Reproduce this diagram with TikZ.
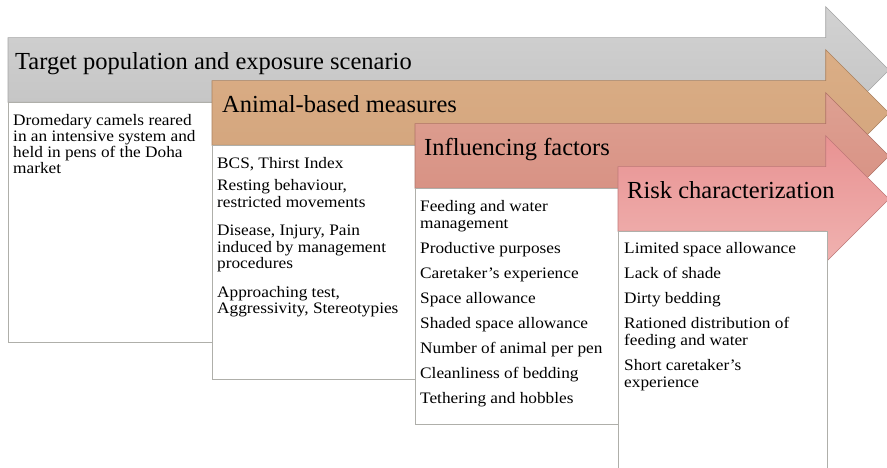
\documentclass[tikz,border=0pt]{standalone}
\usepackage{fontspec}
\setmainfont{Liberation Serif}
\newfontfamily\listfont[FakeStretch=1.08]{Liberation Serif}
\usetikzlibrary{shapes.arrows,positioning,calc}

\definecolor{graytop}{RGB}{210,210,210}
\definecolor{graybot}{RGB}{194,194,194}
\definecolor{grayedge}{RGB}{165,165,165}
\definecolor{tantop}{RGB}{219,174,134}
\definecolor{tanbot}{RGB}{210,164,124}
\definecolor{tanedge}{RGB}{170,130,95}
\definecolor{rosetop}{RGB}{222,160,146}
\definecolor{rosebot}{RGB}{214,142,128}
\definecolor{roseedge}{RGB}{175,115,102}
\definecolor{pinktop}{RGB}{232,146,146}
\definecolor{pinkbot}{RGB}{240,178,176}
\definecolor{pinkedge}{RGB}{190,120,120}
\definecolor{boxline}{RGB}{175,175,170}

\begin{document}
\begin{tikzpicture}[x=1pt, y=-1pt,
  banner/.style={single arrow, single arrow head extend=31pt, single arrow tip angle=90,
    inner xsep=0pt, inner ysep=32pt, outer sep=0pt, anchor=tail, line width=0.6pt},
  title/.style={anchor=base west, inner sep=0pt, font=\fontsize{24.5}{28}\selectfont},
  listbox/.style={draw=boxline, fill=white, anchor=north west, inner sep=0pt, outer sep=0pt, line width=0.8pt},
  items/.style={anchor=north west, align=left, inner sep=0pt, font=\listfont\fontsize{16}{17}\selectfont}
]
\useasboundingbox[fill=white] (0,0) rectangle (887,468);

% banners, each one laid over the previous
\node[banner, minimum height=881pt, draw=grayedge, top color=graytop, bottom color=graybot] (target) at (8,70) {};
\node[listbox, minimum width=204pt, minimum height=240pt] (targetbox) at (8,102) {};

\node[banner, minimum height=677pt, draw=tanedge, top color=tantop, bottom color=tanbot] (measures) at (212,113) {};
\node[listbox, minimum width=203pt, minimum height=234pt] (measuresbox) at (212,145) {};

\node[banner, minimum height=474pt, draw=roseedge, top color=rosetop, bottom color=rosebot] (factors) at (415,156) {};
\node[listbox, minimum width=203pt, minimum height=236pt] (factorsbox) at (415,188) {};

\node[banner, minimum height=271pt, draw=pinkedge, top color=pinktop, bottom color=pinkbot] (risk) at (618,199) {};
\node[listbox, minimum width=209pt, minimum height=240pt] (riskbox) at (618,231) {};

% banner titles
\node[title] (targettitle) at ($(target.tail)+(7,0)$) {Target population and exposure scenario};
\node[title] (measurestitle) at ($(measures.tail)+(10,0)$) {Animal-based measures};
\node[title] (factorstitle) at ($(factors.tail)+(9,0)$) {Influencing factors};
\node[title] (risktitle) at ($(risk.tail)+(9,0)$) {Risk characterization};

% box contents
\node[items, below right=12pt and 5pt of targetbox.north west, font=\listfont\fontsize{16}{16}\selectfont] (targetlist)
  {Dromedary camels reared\\in an intensive system and\\held in pens of the Doha\\market};
\node[items, below right=12pt and 5pt of measuresbox.north west, font=\listfont\fontsize{16}{16.5}\selectfont] (measureslist)
  {BCS, Thirst Index\\[6pt]
   Resting behaviour,\\restricted movements\\[12pt]
   Disease, Injury, Pain\\induced by management\\procedures\\[12pt]
   Approaching test,\\Aggressivity, Stereotypies};
\node[items, below right=12pt and 5pt of factorsbox.north west] (factorslist)
  {Feeding and water\\management\\[8pt]
   Productive purposes\\[8pt]
   Caretaker’s experience\\[8pt]
   Space allowance\\[8pt]
   Shaded space allowance\\[8pt]
   Number of animal per pen\\[8pt]
   Cleanliness of bedding\\[8pt]
   Tethering and hobbles};
\node[items, below right=11pt and 6pt of riskbox.north west] (risklist)
  {Limited space allowance\\[8pt]
   Lack of shade\\[8pt]
   Dirty bedding\\[8pt]
   Rationed distribution of\\feeding and water\\[8pt]
   Short caretaker’s\\experience};
\end{tikzpicture}
\end{document}
